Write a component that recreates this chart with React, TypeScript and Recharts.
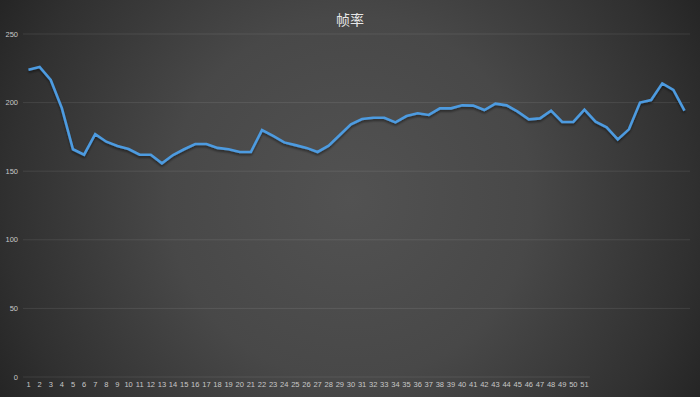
import React from 'react';
import { LineChart, Line, XAxis, YAxis, ReferenceLine } from 'recharts';

const categories = [
  '1','2','3','4','5','6','7','8','9','10','11','12','13','14','15','16','17','18','19','20',
  '21','22','23','24','25','26','27','28','29','30','31','32','33','34','35','36','37','38','39','40',
  '41','42','43','44','45','46','47','48','49','50','51','52','53','54','55','56','57','58','59','60',
];

const frameRate = [
  224, 226, 216.5, 196, 166, 162, 177, 171.5, 168.4, 166.2,
  162, 162, 155.7, 161.8, 166, 169.8, 169.8, 167, 166, 164,
  164, 180, 175.7, 171, 169, 167, 164, 168.6, 176.4, 184.2,
  188, 189, 189, 185.6, 190.2, 192.2, 191, 195.8, 195.8, 198,
  197.8, 194.6, 199.2, 198, 193.4, 187.8, 188.5, 194.1, 185.9, 185.9,
  194.8, 186.1, 182, 173.2, 180.5, 200, 201.9, 214, 209.2, 194.1,
];

const tickLabels = [
  '1','2','3','4','5','6','7','8','9','10','11','12','13','14','15','16','17','18','19','20',
  '21','22','23','24','25','26','27','28','29','30','31','32','33','34','35','36','37','38','39','40',
  '41','42','43','44','45','46','47','48','49','50','51',
];

const yTicks = [0, 50, 100, 150, 200, 250];

const title = '帧率';

const data = categories.map((c, i) => ({ cat: c, fps: frameRate[i] }));

const gridStroke = 'rgba(255,255,255,0.09)';

const ZeroLine = (props: any) => {
  const { x1, y1, x2, y2 } = props;
  return <line x1={x1 - 5.5} y1={y1} x2={x2 + 5.5} y2={y2} stroke={gridStroke} strokeWidth={1} />;
};

export default function App() {
  return (
    <div
      style={{
        position: 'absolute',
        left: 0,
        top: 0,
        width: 700,
        height: 397,
        background:
          'radial-gradient(circle farthest-corner at 50% 50%, #525252 0%, #484848 45%, #303030 85%, #252525 100%)',
        overflow: 'hidden',
      }}
    >
      <div
        style={{
          position: 'absolute',
          left: 0,
          width: 700,
          top: 9,
          textAlign: 'center',
          fontFamily: '"Noto Sans CJK SC", sans-serif',
          fontSize: 14,
          lineHeight: '20px',
          color: '#e6e6e6',
        }}
      >
        {title}
      </div>
      <LineChart
        width={700}
        height={397}
        data={data}
        margin={{ top: 34, right: 10, bottom: 0, left: 0 }}
        style={{ position: 'absolute', left: 0, top: 0 }}
      >
        <defs>
          <filter id="lineShadow" x="-5%" y="-20%" width="110%" height="140%">
            <feDropShadow dx="0" dy="2" stdDeviation="1.2" floodColor="#000" floodOpacity="0.45" />
          </filter>
        </defs>
        <XAxis
          dataKey="cat"
          type="category"
          interval={0}
          padding={{ left: 5.5, right: 5.5 }}
          axisLine={false}
          tickLine={false}
          tickSize={3}
          tickMargin={2}
          height={20}
          tick={{ fontSize: 7.5, fill: '#c8c8c8', fontFamily: '"Liberation Sans", Arial, sans-serif' }}
          tickFormatter={(v: string) => (tickLabels.includes(v) ? v : '')}
        />
        <YAxis
          type="number"
          domain={[0, 250]}
          ticks={yTicks}
          width={23}
          axisLine={false}
          tickLine={false}
          tickSize={3}
          tickMargin={2}
          tick={{ fontSize: 7.5, fill: '#c8c8c8', fontFamily: '"Liberation Sans", Arial, sans-serif' }}
        />
        {yTicks.filter((t) => t !== 0).map((t) => (
          <ReferenceLine key={t} y={t} stroke={gridStroke} strokeWidth={1} />
        ))}
        <ReferenceLine
          segment={[
            { x: tickLabels[0], y: 0 },
            { x: tickLabels[tickLabels.length - 1], y: 0 },
          ]}
          shape={ZeroLine}
        />
        <Line
          type="linear"
          dataKey="fps"
          stroke="#4d9be0"
          strokeWidth={2.6}
          dot={false}
          activeDot={false}
          isAnimationActive={false}
          filter="url(#lineShadow)"
        />
      </LineChart>
    </div>
  );
}
